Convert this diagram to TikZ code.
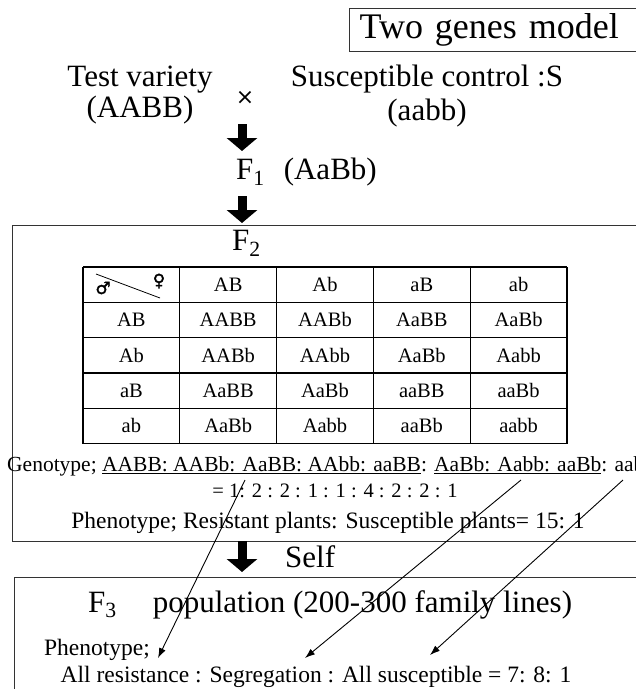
\documentclass[tikz,border=0pt]{standalone}
\usepackage{fontspec}
\setmainfont{Liberation Serif}
\newfontfamily\gendersym[FakeBold=2]{DejaVu Sans}
\newfontfamily\symsans{DejaVu Sans}
\usetikzlibrary{arrows.meta}

\tikzset{
  every node/.style={inner sep=0pt},
  bigtext/.style={font=\fontsize{31}{31}\selectfont},
  midtext/.style={font=\fontsize{23.5}{26}\selectfont},
  smalltext/.style={font=\fontsize{20.5}{22}\selectfont},
  frame/.style={draw=black!80, line width=1pt},
  thickarrow/.style={line width=9pt, -{Triangle[width=30pt,length=13pt]}},
  thinarrow/.style={line width=0.9pt, -{Latex[length=10pt,width=7pt]}},
}

\begin{document}
\begin{tikzpicture}[x=1pt,y=-1pt]
  \path[use as bounding box] (0,0) rectangle (636,689);
  \clip (0,0) rectangle (636,689);

  % model name
  \node[frame, anchor=north west, minimum height=43pt, text width=280pt,
        inner xsep=10pt, font=\fontsize{36}{36}\selectfont] (title) at (349,8) {Two genes model};

  % parents and F1
  \node[bigtext, align=center] (test) at (140,95) {Test variety\\(AABB)};
  \node[font={\symsans\fontsize{22}{22}\selectfont}] (cross) at (245,98) {×};
  \node[bigtext, align=center] (susc) at (427,96) {Susceptible control :S\\[3pt](aabb)};
  \node[bigtext, anchor=west] (f1) at (236,172) {F\textsubscript{1}\hspace{19pt}(AaBb)};

  \coordinate (a1top) at (242,124);
  \coordinate (a1tip) at (242,151);
  \coordinate (a2top) at (242,196);
  \coordinate (a2tip) at (242,223);
  \draw[thickarrow] (a1top) -- (a1tip);
  \draw[thickarrow] (a2top) -- (a2tip);

  % F2 frame
  \node[frame, anchor=north west, minimum width=640pt, minimum height=316pt] (f2box) at (12,225) {};
  \node[bigtext, anchor=west] (f2) at (232,243) {F\textsubscript{2}};

  % Punnett square
  \foreach \i in {0,...,5} {
    \draw[line width=1.2pt] (83+96.8*\i,267) -- (83+96.8*\i,443.5);
    \draw[line width=1.2pt] (83,267+35.3*\i) -- (567,267+35.3*\i);
  }
  \draw[line width=0.8pt] (96,274) -- (160,298);
  \node[font={\gendersym\fontsize{17}{17}\selectfont}] (male) at (103,288) {♂};
  \node[font={\gendersym\fontsize{17}{17}\selectfont}] (female) at (159,281) {♀};
  \foreach \g [count=\n] in {AB,Ab,aB,ab} {
    \node[smalltext] (col\n) at (83+96.8*\n+48.4,284.65) {\g};
    \node[smalltext] (row\n) at (131.4,267+35.3*\n+17.65) {\g};
  }
  \foreach \row [count=\r] in {{AABB,AABb,AaBB,AaBb},{AABb,AAbb,AaBb,Aabb},
                               {AaBB,AaBb,aaBB,aaBb},{AaBb,Aabb,aaBb,aabb}} {
    \foreach \g [count=\c] in \row {
      \node[smalltext] (cell\r\c) at (83+96.8*\c+48.4,267+35.3*\r+17.65) {\g};
    }
  }

  % F2 ratios
  \node[font=\fontsize{21.5}{23}\selectfont, anchor=base west] (geno) at (7,471)
    {Genotype; \underline{AABB: AABb: AaBB: AAbb: aaBB}: \underline{AaBb: Aabb: aaBb}: aabb};
  \node[smalltext, anchor=base] (ratio) at (335,497) {= 1: 2 : 2 : 1 : 1 : 4 : 2 : 2 : 1};
  \node[midtext, anchor=base] (pheno2) at (328,528)
    {Phenotype; Resistant plants: Susceptible plants= 15: 1};

  % selfing
  \coordinate (a3top) at (242,541);
  \coordinate (a3tip) at (242,572);
  \draw[thickarrow] (a3top) -- (a3tip);
  \node[bigtext, anchor=base west] (self) at (285,567) {Self};

  % F3 frame
  \node[frame, anchor=north west, minimum width=640pt, minimum height=130pt] (f3box) at (14,577) {};
  \node[bigtext, anchor=base west] (f3) at (88,612)
    {F\textsubscript{3}\hspace{36pt}population (200-300 family lines)};
  \node[midtext, anchor=base east] (pheno3) at (150,655) {Phenotype;};
  \node[midtext, anchor=base] (segr) at (316,682)
    {All resistance : Segregation : All susceptible = 7: 8: 1};

  % genotype groups to F3 classes
  \coordinate (g1) at (245,480);
  \coordinate (g2) at (521,480);
  \coordinate (g3) at (623,480);
  \coordinate (p1) at (158,658);
  \coordinate (p2) at (305,658);
  \coordinate (p3) at (430,655);
  \foreach \k in {1,2,3}
    \draw[thinarrow] (g\k) -- (p\k);
\end{tikzpicture}
\end{document}
